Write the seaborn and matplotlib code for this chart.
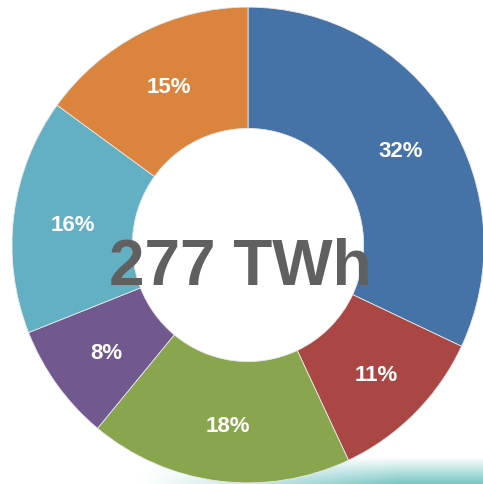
import numpy as np
import matplotlib
matplotlib.use("Agg")
import matplotlib.pyplot as plt
import seaborn as sns

# Share of generation per source (percent), clockwise from 12 o'clock
shares = [32, 11, 18, 8, 16, 15]
colors = ["#4572A7", "#AA4643", "#89A54E", "#71588F", "#63B0C5", "#DB843D"]
total_label = "277 TWh"

sns.set_theme(style="white")
plt.rcParams['font.family'] = ['Liberation Sans', 'DejaVu Sans']

fig = plt.figure(figsize=(4.83, 4.85), dpi=100)
ax = fig.add_axes([0, 0, 1, 1])

W, H = 483, 485
s = 1.008  # the donut is a touch taller than wide
cx, cy = 248, (H - 246) / s
r_out = 236
ring = 0.51

# faint teal glow in the bottom right corner
gy, gx = np.mgrid[0:45, 0:W]
alpha = np.clip((gy - 18) / 25.0, 0, 1) * np.clip((gx - 140) / 260.0, 0, 1)
glow = np.zeros((45, W, 4))
glow[..., 0] = 0x7C / 255
glow[..., 1] = 0xC9 / 255
glow[..., 2] = 0xC5 / 255
glow[..., 3] = alpha
ax.imshow(glow, extent=(0, W, 0, 45 / s), origin="upper", zorder=0, interpolation="bilinear")

wedges, texts, autotexts = ax.pie(
    shares,
    colors=colors,
    startangle=90,
    counterclock=False,
    center=(cx, cy),
    radius=r_out,
    autopct="%.0f%%",
    pctdistance=1 - ring / 2 + 0.01,
    wedgeprops=dict(width=r_out * ring, edgecolor="#e8e8e8", linewidth=0.6),
    textprops=dict(color="white", fontsize=16, fontweight="bold"),
    frame=False,
)
for w in wedges:
    w.set_zorder(1)
# labels sit a little right and low of the ring middle
for t in autotexts:
    x, y = t.get_position()
    t.set_position((x + 2, y - 2))

ax.text(cx - 8, cy - 22, total_label, ha="center", va="center",
        fontsize=46, fontweight="bold", color="#606060", zorder=5)

ax.set_aspect("auto")
ax.set_xlim(0, W)
ax.set_ylim(0, H / s)
ax.axis("off")

fig.savefig("out.png", dpi=100)
